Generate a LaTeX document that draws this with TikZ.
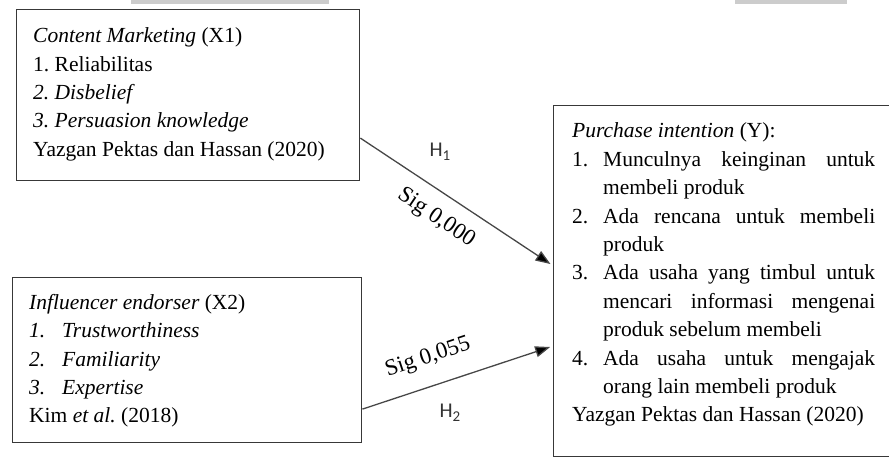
\documentclass[tikz,border=0pt]{standalone}
\usepackage{fontspec}
\setmainfont{Liberation Serif}
\newfontfamily\hfont{Carlito}
\usetikzlibrary{arrows.meta,calc}
\newcommand{\boxfont}{\fontsize{21.5}{28.4}\selectfont\frenchspacing}
\newcommand{\jline}[2]{\makebox[#1][s]{#2}}
\begin{document}
\begin{tikzpicture}[x=1pt,y=-1pt,
  frame/.style={draw=black!78, line width=1.4pt, inner sep=0, anchor=north west},
  body/.style={anchor=base west, inner sep=0},
  link/.style={draw=black!72, line width=1.3pt, -{Triangle[length=15pt,width=11pt,fill=black]}, shorten >=3pt},
  hyp/.style={font=\hfont\fontsize{21}{21}\selectfont, text=black!80, inner sep=0},
  sig/.style={font=\fontsize{23}{23}\selectfont\frenchspacing, inner sep=0},
  strip/.style={fill=black!20, draw=none}]

\clip (0,0) rectangle (889,468);

% pale strips along the top edge
\fill[strip] (131,0) rectangle (329,4.5);
\fill[strip] (735,0) rectangle (847,4.5);

% boxes
\node[frame, minimum width=343pt, minimum height=171pt] (x1) at (16,9) {};
\node[frame, minimum width=349pt, minimum height=165pt] (x2) at (12,277) {};
\node[frame, minimum width=360pt, minimum height=351pt] (y) at (553,105) {};

% box contents
\node[body] (x1t) at (33,42.7) {\begin{minipage}[t]{320pt}\boxfont\setlength\parindent{0pt}%
\textit{Content Marketing} (X1)\\
1. Reliabilitas\\
\textit{2. Disbelief}\\
\textit{3. Persuasion knowledge}\\
Yazgan Pektas dan Hassan (2020)
\end{minipage}};

\node[body] (x2t) at (29,309.3) {\begin{minipage}[t]{320pt}\boxfont\setlength\parindent{0pt}%
\textit{Influencer endorser} (X2)\\
\makebox[33pt][l]{\textit{1.}}\textit{Trustworthiness}\\
\makebox[33pt][l]{\textit{2.}}\textit{Familiarity}\\
\makebox[33pt][l]{\textit{3.}}\textit{Expertise}\\
Kim \textit{et al.}\ (2018)
\end{minipage}};

\node[body] (yt) at (572,138) {\begin{minipage}[t]{303pt}\boxfont\setlength\parindent{0pt}%
\textit{Purchase intention} (Y):\\
\makebox[31pt][l]{1.}\jline{272pt}{Munculnya keinginan untuk}\\
\hspace*{31pt}membeli produk\\
\makebox[31pt][l]{2.}\jline{272pt}{Ada rencana untuk membeli}\\
\hspace*{31pt}produk\\
\makebox[31pt][l]{3.}\jline{272pt}{Ada usaha yang timbul untuk}\\
\hspace*{31pt}\jline{272pt}{mencari informasi mengenai}\\
\hspace*{31pt}produk sebelum membeli\\
\makebox[31pt][l]{4.}\jline{272pt}{Ada usaha untuk mengajak}\\
\hspace*{31pt}orang lain membeli produk\\
Yazgan Pektas dan Hassan (2020)
\end{minipage}};

% connectors
\draw[link] ($(x1.north east)!0.749!(x1.south east)$) -- ($(y.north west)!0.456!(y.south west)$);
\draw[link] ($(x2.north east)!0.794!(x2.south east)$) -- ($(y.north west)!0.684!(y.south west)$);

% connector labels
\node[hyp] (h1) at (440,152) {H\raisebox{-4pt}{\fontsize{15}{15}\selectfont 1}};
\node[hyp] (h2) at (450,413) {H\raisebox{-4pt}{\fontsize{15}{15}\selectfont 2}};
\node[sig, rotate=-34] (s1) at (436,218) {Sig 0,000};
\node[sig, rotate=18.4] (s2) at (428,358) {Sig 0,055};
\end{tikzpicture}
\end{document}
